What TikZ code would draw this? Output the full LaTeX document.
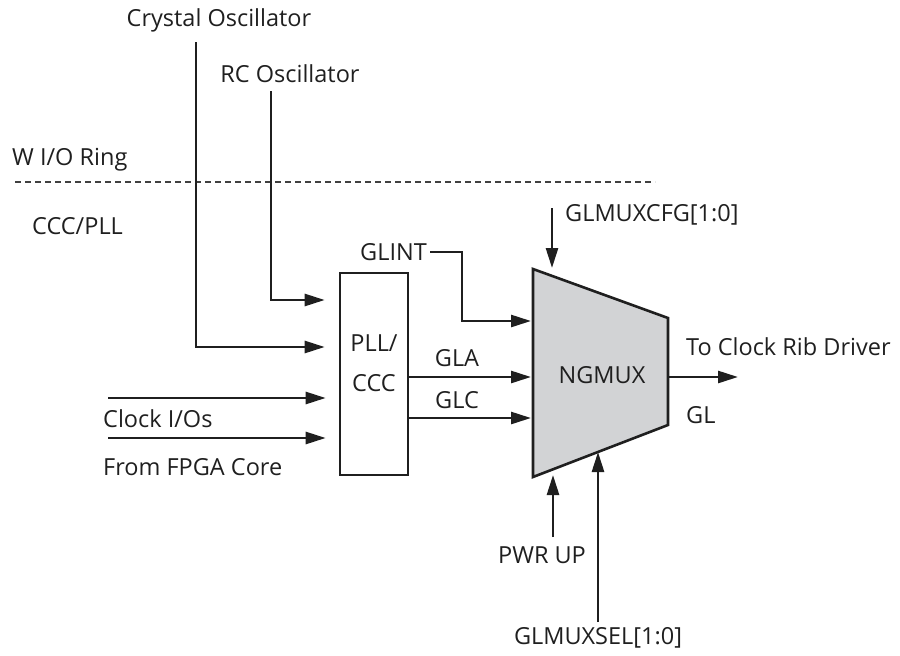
\documentclass[tikz,border=0pt]{standalone}
\usepackage{fontspec}
\setmainfont{Open Sans}
\usetikzlibrary{arrows.meta}
\begin{document}
\begin{tikzpicture}[x=1pt,y=-1pt,
  wire/.style={line width=2.6pt,draw=black!88},
  arr/.style={wire,-{Triangle[length=20pt,width=12pt]}},
  lbl/.style={font=\fontsize{23.5}{27}\selectfont,text=black!88,inner sep=0pt},
  every node/.style={lbl}]
\useasboundingbox (0,0) rectangle (900,656);
% labels
\node (xtal) at (219,20) {Crystal Oscillator};
\node (rc) at (290,74) {RC Oscillator};
\node[anchor=west] (ring) at (12,160) {W I/O Ring};
\node[anchor=west] (cccpll) at (32,226) {CCC/PLL};
\node[anchor=west] (clkio) at (103,419) {Clock I/Os};
\node[anchor=west] (fpga) at (103,467) {From FPGA Core};
\node[anchor=east] (glint) at (427,252) {GLINT};
\node (gla) at (457,358) {GLA};
\node (glc) at (457,400) {GLC};
\node[anchor=west] (cfg) at (565,215) {GLMUXCFG[1:0]};
\node (pwr) at (542,555) {PWR UP};
\node (sel) at (598,638) {GLMUXSEL[1:0]};
\node[anchor=west] (rib) at (686,347) {To Clock Rib Driver};
\node[anchor=west] (gl) at (686,415) {GL};
% dashed ring boundary
\coordinate (d1) at (15,182);
\coordinate (d2) at (655,182);
\draw[line width=1.2pt,draw=black!75,dash pattern=on 6pt off 4pt] (d1) -- (d2);
% PLL box
\node[draw=black!88,line width=2.6pt,minimum width=68pt,minimum height=202pt,inner sep=0pt] (pll) at (374,374) {};
\node[align=center,font=\fontsize{23.5}{40}\selectfont] (plltxt) at (374,363) {PLL/\\CCC};
% NGMUX trapezoid
\coordinate (m1) at (533,269);
\coordinate (m2) at (668,318);
\coordinate (m3) at (668,425);
\coordinate (m4) at (533,477);
\filldraw[wire,fill={rgb,255:red,210;green,211;blue,213},line join=miter] (m1) -- (m2) -- (m3) -- (m4) -- cycle;
\node (ngmux) at (602,375) {NGMUX};
% connectors
\coordinate (xtop) at (196,42);
\coordinate (rtop) at (271,91);
\draw[arr] (xtop) |- ([xshift=-14pt]pll.west |- 0,347);
\draw[arr] (rtop) |- ([xshift=-14pt]pll.west |- 0,300);
\coordinate (c1) at (108,398);
\coordinate (c2) at (108,438);
\draw[arr] (c1) -- ([xshift=-13pt]pll.west |- c1);
\draw[arr] (c2) -- ([xshift=-13pt]pll.west |- c2);
\coordinate (gs) at (430,252);
\draw[arr] (gs) -- (462,252) |- (531,321);
\draw[arr] (pll.east |- 0,377) -- (531,377);
\draw[arr] (pll.east |- 0,418) -- (531,418);
\coordinate (outend) at (738,377);
\draw[arr] (668,377) -- (outend);
\coordinate (cfgtop) at (552,208);
\draw[arr] (cfgtop) -- (552,268);
\coordinate (pwrtop) at (553,537);
\draw[arr] (pwrtop) -- (553,475);
\coordinate (seltop) at (598,622);
\draw[arr] (seltop) -- (598,452);
\end{tikzpicture}
\end{document}
